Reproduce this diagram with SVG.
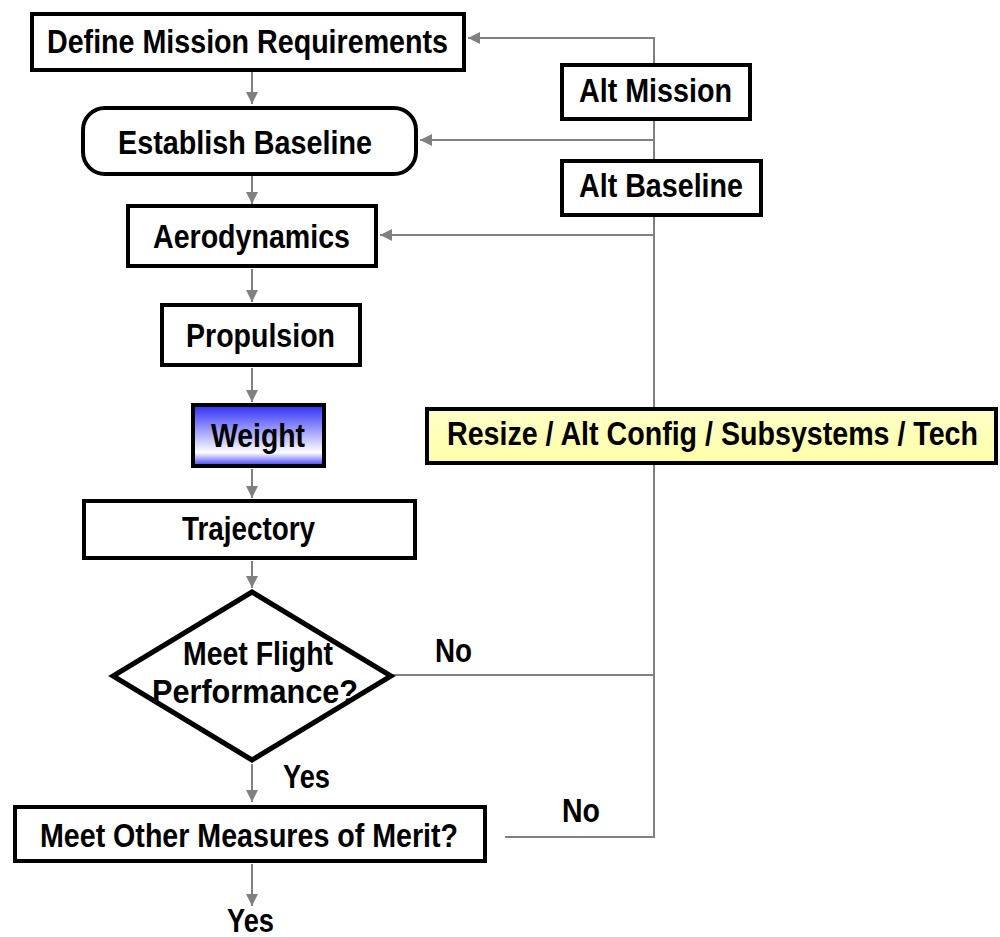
<svg xmlns="http://www.w3.org/2000/svg" width="1000" height="937" viewBox="0 0 1000 937">
  <style>
    .box { fill: #ffffff; stroke: #000000; stroke-width: 4; }
    .lbl { font-family: "Liberation Sans Narrow", "Liberation Sans", Arial, sans-serif; font-weight: bold; font-size: 33px; fill: #000000; }
    .conn { fill: none; stroke: #808080; stroke-width: 2; }
  </style>
  <defs>
    <marker id="arr" viewBox="0 0 12 12" refX="12" refY="6" markerWidth="12" markerHeight="12" orient="auto" markerUnits="userSpaceOnUse">
      <path d="M0,0 L12,6 L0,12 z" fill="#808080"/>
    </marker>
    <linearGradient id="blue" x1="0" y1="0" x2="0" y2="1">
      <stop offset="0" stop-color="#2d2df5"/>
      <stop offset="0.78" stop-color="#ffffff"/>
      <stop offset="1" stop-color="#3a3af8"/>
    </linearGradient>
    <linearGradient id="yel" x1="0" y1="0" x2="0" y2="1">
      <stop offset="0" stop-color="#ffffc8"/>
      <stop offset="1" stop-color="#ffffa8"/>
    </linearGradient>
  </defs>

  <g id="connectors">
    <line class="conn" x1="252" y1="71" x2="252" y2="104" marker-end="url(#arr)"/>
    <line class="conn" x1="252" y1="176" x2="252" y2="204" marker-end="url(#arr)"/>
    <line class="conn" x1="252" y1="269" x2="252" y2="302" marker-end="url(#arr)"/>
    <line class="conn" x1="252" y1="368" x2="252" y2="402" marker-end="url(#arr)"/>
    <line class="conn" x1="252" y1="469" x2="252" y2="498" marker-end="url(#arr)"/>
    <line class="conn" x1="252" y1="561" x2="252" y2="588" marker-end="url(#arr)"/>
    <line class="conn" x1="252" y1="764" x2="252" y2="802" marker-end="url(#arr)"/>
    <line class="conn" x1="252" y1="864" x2="252" y2="906" marker-end="url(#arr)"/>
    <polyline class="conn" points="505,837 654,837 654,38 468,38" marker-end="url(#arr)"/>
    <line class="conn" x1="654" y1="140" x2="420" y2="140" marker-end="url(#arr)"/>
    <line class="conn" x1="654" y1="235" x2="380" y2="235" marker-end="url(#arr)"/>
    <line class="conn" x1="393" y1="675" x2="654" y2="675"/>
  </g>

  <g id="define">
    <rect class="box" x="32" y="14" width="432" height="56"/>
    <text class="lbl" x="47" y="53" textLength="401" lengthAdjust="spacingAndGlyphs">Define Mission Requirements</text>
  </g>
  <g id="establish">
    <rect class="box" x="83" y="108" width="333" height="66" rx="22" ry="22"/>
    <text class="lbl" x="118" y="154" textLength="254" lengthAdjust="spacingAndGlyphs">Establish Baseline</text>
  </g>
  <g id="aero">
    <rect class="box" x="128" y="206" width="248" height="60"/>
    <text class="lbl" x="153" y="248" textLength="197" lengthAdjust="spacingAndGlyphs">Aerodynamics</text>
  </g>
  <g id="propulsion">
    <rect class="box" x="162" y="305" width="198" height="60"/>
    <text class="lbl" x="186" y="347" textLength="149" lengthAdjust="spacingAndGlyphs">Propulsion</text>
  </g>
  <g id="weight">
    <rect class="box" x="193" y="405" width="131" height="61" style="fill:url(#blue)"/>
    <text class="lbl" x="211" y="447" textLength="94" lengthAdjust="spacingAndGlyphs">Weight</text>
  </g>
  <g id="trajectory">
    <rect class="box" x="84" y="501" width="331" height="57"/>
    <text class="lbl" x="182" y="540" textLength="133" lengthAdjust="spacingAndGlyphs">Trajectory</text>
  </g>
  <g id="flight">
    <polygon points="252,592 391,676 252,760 113,676" fill="#ffffff" stroke="#000000" stroke-width="5" stroke-linejoin="miter"/>
    <text class="lbl" x="183" y="665" textLength="150" lengthAdjust="spacingAndGlyphs">Meet Flight</text>
    <text class="lbl" x="152" y="703" textLength="206" lengthAdjust="spacingAndGlyphs">Performance?</text>
  </g>
  <g id="merit">
    <rect class="box" x="15" y="807" width="470" height="54"/>
    <text class="lbl" x="40" y="847" textLength="418" lengthAdjust="spacingAndGlyphs">Meet Other Measures of Merit?</text>
  </g>
  <g id="altmission">
    <rect class="box" x="562" y="65" width="188" height="54"/>
    <text class="lbl" x="579" y="102" textLength="153" lengthAdjust="spacingAndGlyphs">Alt Mission</text>
  </g>
  <g id="altbaseline">
    <rect class="box" x="562" y="161" width="199" height="54"/>
    <text class="lbl" x="579" y="197" textLength="164" lengthAdjust="spacingAndGlyphs">Alt Baseline</text>
  </g>
  <g id="resize">
    <rect class="box" x="427" y="409" width="569" height="54" style="fill:url(#yel)"/>
    <text class="lbl" x="447" y="445" textLength="531" lengthAdjust="spacingAndGlyphs">Resize / Alt Config / Subsystems / Tech</text>
  </g>
  <g id="labels">
    <text class="lbl" x="435" y="662" textLength="37" lengthAdjust="spacingAndGlyphs">No</text>
    <text class="lbl" x="283" y="788" textLength="47" lengthAdjust="spacingAndGlyphs">Yes</text>
    <text class="lbl" x="562" y="822" textLength="38" lengthAdjust="spacingAndGlyphs">No</text>
    <text class="lbl" x="227" y="932" textLength="47" lengthAdjust="spacingAndGlyphs">Yes</text>
  </g>
</svg>
